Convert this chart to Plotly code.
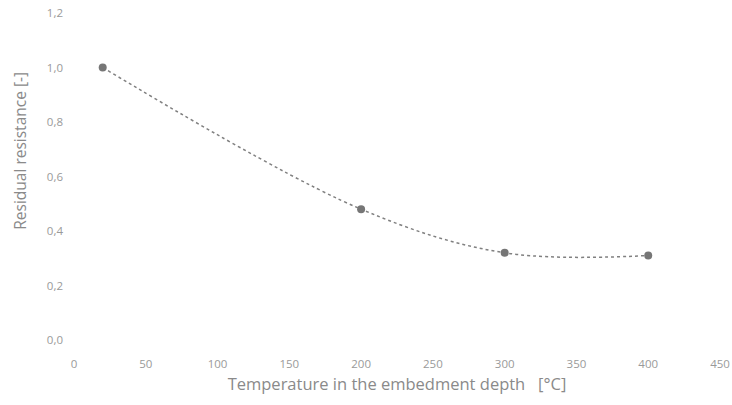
import plotly.graph_objects as go

temperature = [20, 200, 300, 400]
resistance = [1.0, 0.48, 0.32, 0.31]
x_ticks = [0, 50, 100, 150, 200, 250, 300, 350, 400, 450]
y_ticks = [0.0, 0.2, 0.4, 0.6, 0.8, 1.0, 1.2]

fig = go.Figure()
fig.add_trace(go.Scatter(
    x=temperature, y=resistance, mode="lines+markers",
    line=dict(shape="spline", smoothing=1.0, dash="dot", color="#808080", width=1.5),
    marker=dict(size=8, color="#767676"),
    showlegend=False,
))

fig.update_layout(
    width=732, height=405,
    margin=dict(l=74, r=12, t=13, b=65),
    paper_bgcolor="white", plot_bgcolor="white",
    separators=",.",
    font=dict(family="Open Sans", color="#9a9a9a", size=11.5),
    xaxis=dict(
        range=[0, 450], tickvals=x_ticks, showgrid=False, zeroline=False, showline=False,
        ticklabelstandoff=15, automargin=False,
        title=dict(text="Temperature in the embedment depth   [°C]", font=dict(size=16.5, color="#8a8a8a"), standoff=8),
    ),
    yaxis=dict(
        range=[0, 1.2], tickvals=y_ticks, tickformat=".1f", showgrid=False, zeroline=False, showline=False,
        ticklabelstandoff=10, automargin=False,
    ),
    annotations=[dict(
        text="Residual resistance [-]", textangle=-90, showarrow=False,
        xref="paper", yref="paper", x=-0.083, y=0.58, xanchor="center", yanchor="middle",
        font=dict(size=15.5, color="#8a8a8a"),
    )],
)

fig.write_html("out.html")
